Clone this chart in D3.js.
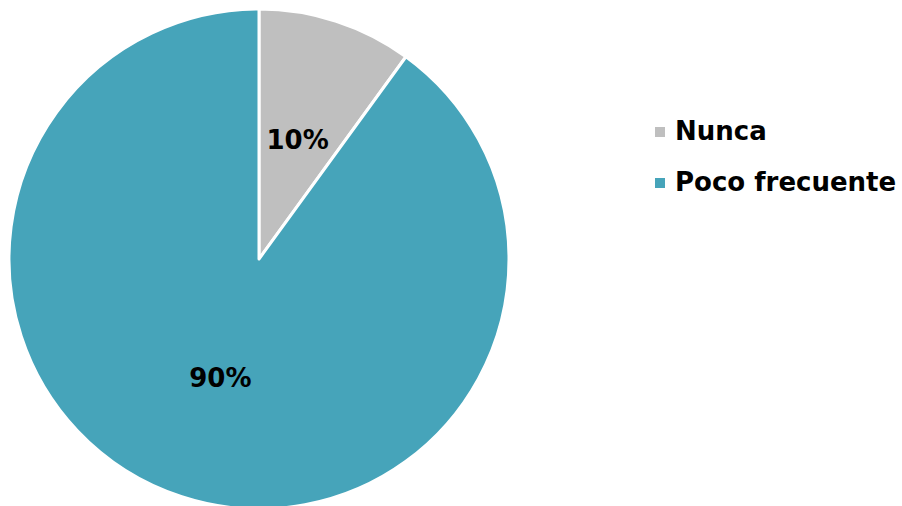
<!DOCTYPE html>
<html>
<head>
<meta charset="utf-8">
<script src="https://cdn.jsdelivr.net/npm/d3@7"></script>
<style>
  html, body { margin: 0; padding: 0; background: #fff; }
  svg { display: block; }
  text { font-family: "DejaVu Sans", Verdana, sans-serif; font-weight: bold; }
</style>
</head>
<body>
<svg id="chart" width="902" height="506"></svg>
<script>
// Frequency shares
const categories = ["Nunca", "Poco frecuente"];
const values = [10, 90];
const colors = ["#BFBFBF", "#46A4BA"];

const svg = d3.select("#chart");
const cx = 259, cy = 259, radius = 250;

const color = d3.scaleOrdinal().domain(categories).range(colors);

const pie = d3.pie().sort(null).value(d => d.value);
const data = categories.map((c, i) => ({ category: c, value: values[i] }));
const arcs = pie(data);

const arc = d3.arc().innerRadius(0).outerRadius(radius);
const labelArc = d3.arc().innerRadius(radius * 0.5).outerRadius(radius * 0.5);

const g = svg.append("g").attr("transform", `translate(${cx},${cy})`);

g.selectAll("path.slice")
  .data(arcs)
  .join("path")
  .attr("class", "slice")
  .attr("d", arc)
  .attr("fill", d => color(d.data.category))
  .attr("stroke", "#fff")
  .attr("stroke-width", 3)
  .attr("stroke-linejoin", "round");

const total = d3.sum(values);
g.selectAll("text.pct")
  .data(arcs)
  .join("text")
  .attr("class", "pct")
  .attr("transform", d => `translate(${labelArc.centroid(d)})`)
  .attr("text-anchor", "middle")
  .attr("dy", "0.36em")
  .attr("font-size", 26)
  .attr("fill", "#000")
  .text(d => Math.round(d.data.value / total * 100) + "%");

// Legend
const legend = svg.append("g").attr("transform", "translate(655,0)");
const rowY = d3.scalePoint().domain(categories).range([132, 183]);

const item = legend.selectAll("g.item")
  .data(categories)
  .join("g")
  .attr("class", "item")
  .attr("transform", d => `translate(0,${rowY(d)})`);

item.append("rect")
  .attr("x", 0).attr("y", -5)
  .attr("width", 10).attr("height", 10)
  .attr("fill", d => color(d));

item.append("text")
  .attr("x", 20)
  .attr("y", 7.5)
  .attr("font-size", 26)
  .attr("fill", "#000")
  .text(d => d);
</script>
</body>
</html>
